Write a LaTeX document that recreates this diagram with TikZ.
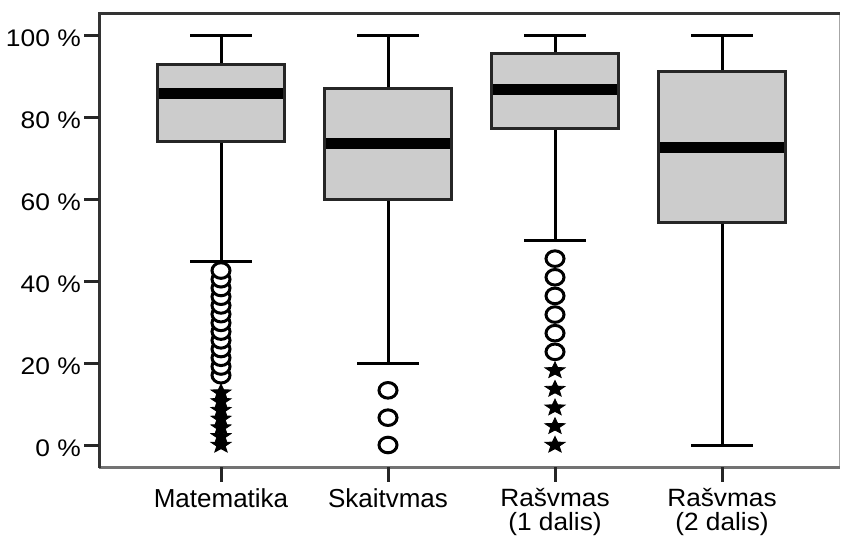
\documentclass[tikz,border=0pt]{standalone}
\usepackage{fontspec}
\setmainfont{Liberation Sans}
\newcommand\pcy[1]{445-4.1*(#1)}
\newcommand\bxp[6]{%
 \draw[whisk] (#1,{\pcy{100}}) -- (#1,{\pcy{#2}});
 \draw[whisk] (#1,{\pcy{#4}}) -- (#1,{\pcy{#5}});
 \draw[whisk] ({#1-31},{\pcy{100}}) -- ({#1+31},{\pcy{100}});
 \draw[whisk] ({#1-31},{\pcy{#5}}) -- ({#1+31},{\pcy{#5}});
 \draw[boxst] ({#1-63.5},{\pcy{#2}}) rectangle ({#1+63.5},{\pcy{#4}});
 \fill ({#1-62},{\pcy{#3}-5.5}) rectangle ({#1+62},{\pcy{#3}+5.5});
 \coordinate (#6) at (#1,467);
}
\newcommand\circm[2]{\draw[circst] (#1,{\pcy{#2}}) ellipse[x radius=9pt, y radius=7.8pt];}
\newcommand\starm[2]{\filldraw[starst, shift={(#1,{\pcy{#2}})}, xscale=1.22]
 (90:8.6pt) -- (126:3.7pt) -- (162:8.6pt) -- (198:3.7pt) -- (234:8.6pt) -- (270:3.7pt)
 -- (306:8.6pt) -- (342:3.7pt) -- (18:8.6pt) -- (54:3.7pt) -- cycle;}
\tikzset{
 whisk/.style={line width=3pt, black},
 boxst/.style={line width=3pt, draw=black!85, fill=black!20},
 circst/.style={line width=3pt, draw=black, fill=white},
 starst/.style={line width=0.8pt, fill=black, draw=black},
 ylab/.style={anchor=east, inner sep=0pt, font=\fontsize{24}{24}\selectfont, xscale=1.1},
 xlab/.style={anchor=base, inner sep=0pt, align=center, font=\fontsize{26}{24}\selectfont},
 xlabb/.style={anchor=base, inner sep=0pt, align=center, font=\fontsize{25}{24}\selectfont, xscale=1.05},
 tick/.style={line width=3pt, black!85}
}
\begin{document}
\begin{tikzpicture}[x=1pt, y=-1pt]
\useasboundingbox (0,0) rectangle (841,536);
% frame
\draw[line width=1pt, black!35] (839,13) -- (839,467);
\draw[line width=3pt, black!55] (99,467) -- (840,467);
\draw[line width=3pt, black!80] (99,468) -- (99,13) -- (840,13);
% y ticks and labels
\foreach \v in {0,20,...,100}{
 \draw[tick] (84,{\pcy{\v}}) -- (99,{\pcy{\v}});
 \node[ylab] (yl\v) at (81,{\pcy{\v}+3}) {\v\ \%};
}
% boxes
\bxp{221}{92.8}{85.7}{74}{44.7}{cA}
\bxp{388}{87}{73.5}{59.8}{20}{cB}
\bxp{555}{95.6}{86.6}{77.3}{50}{cC}
\bxp{722}{91}{72.6}{54.2}{0}{cD}
% x ticks
\foreach \c in {cA,cB,cC,cD}{\draw[tick] (\c) -- ++(0,15);}
% outliers Matematika
\foreach \k in {8,...,20}{\circm{221}{\k*100/47}}
\foreach \k in {0,...,6}{\starm{221}{\k*100/47}}
% outliers Skaitvmas
\foreach \k in {0,1,2}{\circm{388}{\k*100/15}}
% outliers Rasvmas 1
\foreach \k in {5,...,10}{\circm{555}{\k*100/22}}
\foreach \k in {0,...,4}{\starm{555}{\k*100/22}}
% labels
\node[xlab] (lA) at (221,507) {Matematika};
\node[xlab] (lB) at (388,507) {Skaitvmas};
\node[xlabb] (lC) at (555,530.5) {Rašvmas\\(1 dalis)};
\node[xlabb] (lD) at (722,530.5) {Rašvmas\\(2 dalis)};
\end{tikzpicture}
\end{document}
